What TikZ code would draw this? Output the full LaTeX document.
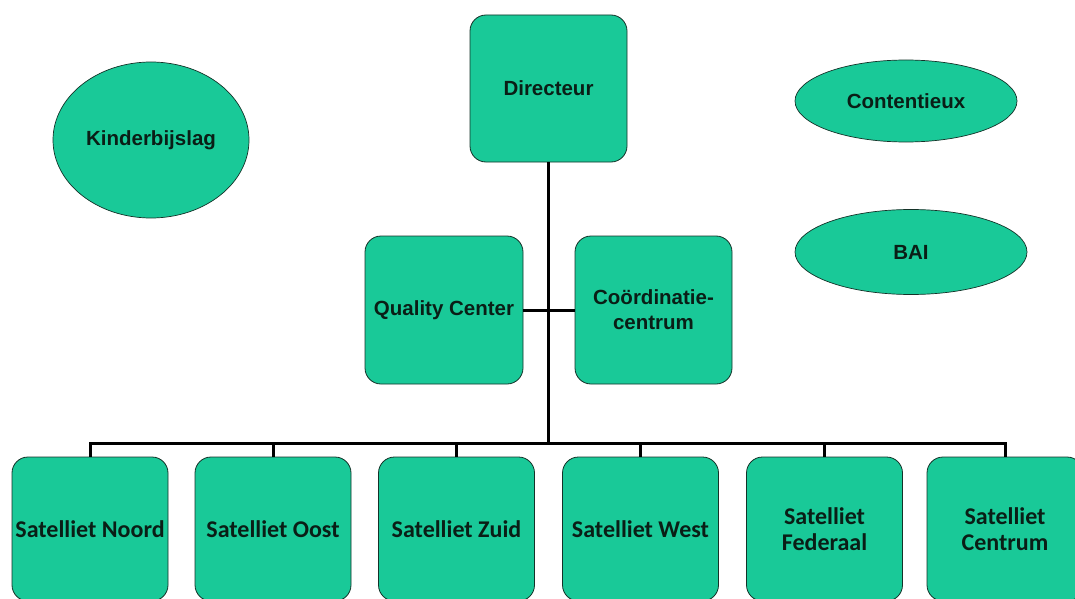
\documentclass[tikz,border=0pt]{standalone}
\usepackage{fontspec}
\setmainfont{Liberation Sans}
\newfontfamily\carl{Carlito}
\usetikzlibrary{shapes.geometric}
\definecolor{boxfill}{RGB}{25,201,152}
\definecolor{boxline}{RGB}{20,50,40}
\definecolor{txt}{RGB}{10,30,22}
\tikzset{
  rbox/.style={draw=boxline, line width=0.8pt, fill=boxfill, rounded corners=16pt,
    inner sep=0pt, align=center, text=txt, font=\fontsize{20.5}{25}\selectfont\bfseries},
  sbox/.style={rbox, minimum width=156pt, minimum height=144pt,
    font=\carl\fontsize{24}{26}\selectfont\bfseries},
  oval/.style={ellipse, draw=boxline, line width=0.7pt, fill=boxfill, inner sep=0pt,
    text=txt, font=\fontsize{20.5}{25}\selectfont\bfseries},
  link/.style={line width=3pt, draw=black}
}
\begin{document}
\begin{tikzpicture}[x=1pt,y=-1pt]
\useasboundingbox (0,0) rectangle (1075,599);
\clip (0,0) rectangle (1075,599);
\node[rbox, minimum width=157pt, minimum height=147pt] (dir) at (548.5,88.5) {Directeur};
\node[rbox, minimum width=158pt, minimum height=148pt] (qc) at (444,310) {Quality Center};
\node[rbox, minimum width=157pt, minimum height=148pt] (co) at (653.5,310) {Coördinatie-\\centrum};
\node[sbox] (s1) at (90,529) {Satelliet Noord};
\node[sbox] (s2) at (273,529) {Satelliet Oost};
\node[sbox] (s3) at (456.5,529) {Satelliet Zuid};
\node[sbox] (s4) at (640.5,529) {Satelliet West};
\node[sbox] (s5) at (824.5,529) {Satelliet\\Federaal};
\node[sbox] (s6) at (1005,529) {Satelliet\\Centrum};
\node[oval, minimum width=196pt, minimum height=156pt] (kb) at (151,140) {Kinderbijslag};
\node[oval, minimum width=222pt, minimum height=82pt] (ct) at (906,101) {Contentieux};
\node[oval, minimum width=232pt, minimum height=85pt] (bai) at (911,252) {BAI};
\coordinate (bus) at (548.5,443);
\draw[link] (dir.south) -- (bus);
\draw[link] (qc.east) -- (co.west);
\foreach \s in {s1,s2,s3,s4,s5,s6} {
  \draw[link] (bus) -| (\s.north);
}
\end{tikzpicture}
\end{document}
